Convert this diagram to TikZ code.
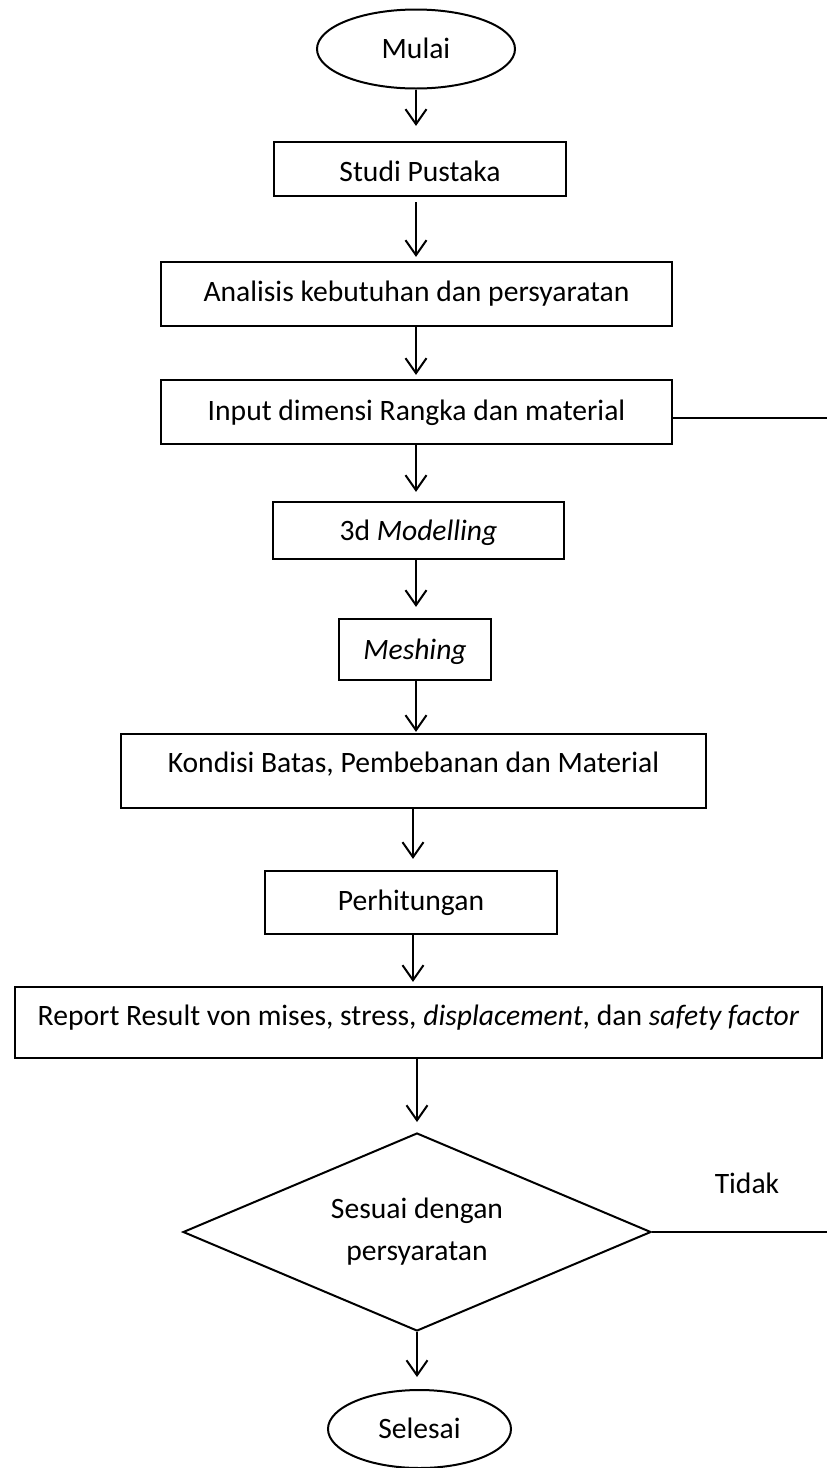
\documentclass[tikz,border=0pt]{standalone}
\usepackage{fontspec}
\setmainfont{Carlito}
\usetikzlibrary{shapes.geometric,arrows.meta}
\begin{document}
\begin{tikzpicture}[x=1pt,y=-1pt,
  every node/.style={font=\fontsize{29.6pt}{42pt}\selectfont, inner sep=0pt, text height=19pt, text depth=0pt},
  box/.style={draw, line width=2.2pt, rectangle},
  term/.style={draw, line width=2pt, ellipse},
  decide/.style={draw, line width=2pt, diamond, aspect=2.36, align=center, text height=, text depth=},
  flow/.style={line width=2pt, -{Straight Barb[length=15pt,width=21pt,line width=2pt]}},
  link/.style={line width=1.2pt}]
\fill[white] (0,0) rectangle (827,1468);
\useasboundingbox (0,0) rectangle (827,1468);

\coordinate (axis) at (416,0);
\coordinate (axisb) at (413,0);

\node[term, minimum width=198pt, minimum height=79pt] (mulai) at (416,49) {Mulai};
\node[box, minimum width=292pt, minimum height=54pt, text height=25pt] (studi) at (420,169) {Studi Pustaka};
\node[box, minimum width=511pt, minimum height=64pt, text depth=4pt] (analisis) at (416.5,294) {Analisis kebutuhan dan persyaratan};
\node[box, minimum width=511pt, minimum height=64pt, text depth=2pt] (input) at (416.5,412) {Input dimensi Rangka dan material};
\node[box, minimum width=291pt, minimum height=57pt, text depth=0pt] (model) at (418.5,530.5) {3d \textit{Modelling}};
\node[box, minimum width=152pt, minimum height=61pt] (mesh) at (415,649.5) {\textit{Meshing}};
\node[box, minimum width=585pt, minimum height=74pt, text depth=16pt] (kondisi) at (413.5,771) {Kondisi Batas, Pembebanan dan Material};
\node[box, minimum width=292pt, minimum height=63pt, text depth=3pt] (perh) at (411,902.5) {Perhitungan};
\node[box, minimum width=807pt, minimum height=71pt, text depth=13pt] (report) at (418.5,1022.5) {Report Result von mises, stress, \textit{displacement}, dan \textit{safety factor}};
\node[decide, minimum width=468pt, minimum height=198pt] (cek) at (417,1232) {Sesuai dengan\\persyaratan};
\node[term, minimum width=183pt, minimum height=78pt] (selesai) at (419.5,1429) {Selesai};
\node (tidak) at (747,1184) {Tidak};

\coordinate (kanan1) at (827,418);
\coordinate (kanan2) at (827,1232);

\draw[flow, shorten >=15pt] (mulai.south -| axis) -- (studi.north -| axis);
\draw[flow, shorten <=5pt, shorten >=4pt] (studi.south -| axis) -- (analisis.north -| axis);
\draw[flow, shorten >=4pt] (analisis.south -| axis) -- (input.north -| axis);
\draw[flow, shorten >=9pt] (input.south -| axis) -- (model.north -| axis);
\draw[flow, shorten >=11pt] (model.south -| axis) -- (mesh.north -| axis);
\draw[flow, shorten >=1pt] (mesh.south -| axis) -- (kondisi.north -| axis);
\draw[flow, shorten >=11pt] (kondisi.south -| axisb) -- (perh.north -| axisb);
\draw[flow, shorten >=4pt] (perh.south -| axisb) -- (report.north -| axisb);
\draw[flow, shorten >=10pt] (report.south -| cek.north) -- (cek.north);
\draw[flow, shorten >=12pt] (cek.south) -- (selesai.north -| cek.south);

\draw[link] (input.east |- kanan1) -- (kanan1);
\draw[link] (cek.east) -- (kanan2);
\end{tikzpicture}
\end{document}
